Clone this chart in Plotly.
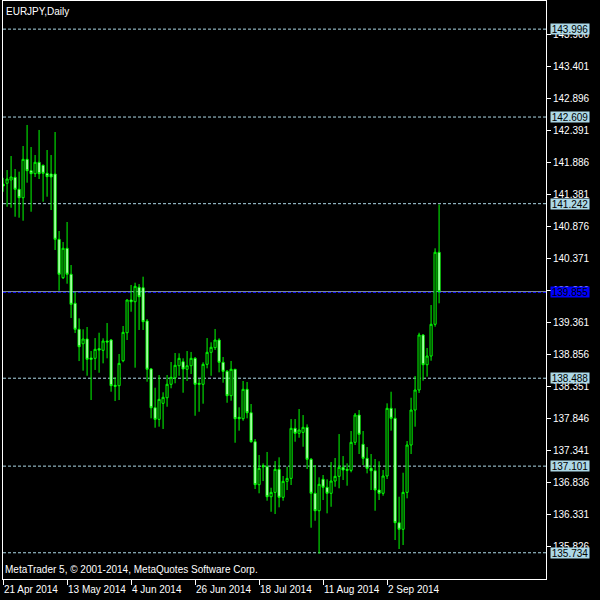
import plotly.graph_objects as go

# ---------------- data ----------------
bar_index = list(range(110))
opens = [141.55, 141.564, 141.616, 141.658, 141.469, 141.336, 141.942, 141.762, 141.715, 141.895,
         141.847, 141.721, 141.710, 141.710, 140.680, 140.074, 140.538, 140.128, 139.670, 139.260,
         139.032, 139.107, 138.807, 138.802, 138.954, 138.928, 139.075, 139.091, 138.376, 138.370,
         138.764, 139.206, 139.722, 139.695, 139.923, 139.916, 139.391, 138.634, 138.022, 137.839,
         138.092, 138.180, 138.392, 138.496, 138.685, 138.748, 138.629, 138.685, 138.802, 138.408,
         138.392, 138.707, 138.897, 138.970, 139.091, 138.739, 138.597, 138.212, 138.629, 137.871,
         137.849, 138.313, 137.943, 137.486, 136.808, 137.107, 137.092, 136.618, 136.687, 137.050,
         136.609, 136.861, 136.908, 137.697, 137.619, 137.634, 137.713, 137.208, 136.672, 136.397,
         136.893, 136.767, 136.672, 136.866, 136.940, 137.082, 137.050, 137.035, 137.477, 137.907,
         137.445, 137.224, 137.066, 137.028, 136.724, 136.672, 136.945, 138.013, 137.855, 136.208,
         136.104, 136.687, 137.434, 137.986, 138.302, 139.170, 138.701, 138.838, 139.339, 140.475]
highs = [141.65, 141.773, 141.994, 141.789, 141.747, 142.152, 142.484, 142.136, 142.010, 142.405,
         141.860, 142.089, 142.010, 142.373, 140.811, 140.637, 140.953, 140.274, 139.848, 139.433,
         139.260, 139.296, 138.917, 139.122, 139.206, 139.118, 139.359, 139.107, 138.502, 138.870,
         139.312, 139.733, 139.959, 139.995, 139.974, 140.090, 139.422, 138.649, 138.338, 138.539,
         138.266, 138.539, 138.744, 138.886, 138.881, 138.802, 138.917, 138.902, 138.823, 138.475,
         138.739, 139.122, 139.055, 139.265, 139.118, 138.823, 138.618, 138.760, 138.634, 138.029,
         138.444, 138.428, 138.081, 137.529, 137.276, 137.145, 137.324, 136.760, 137.181, 137.240,
         136.945, 137.092, 137.844, 137.844, 138.002, 137.907, 137.760, 137.229, 137.118, 136.924,
         136.961, 136.893, 137.166, 137.229, 137.607, 137.260, 137.145, 137.655, 137.939, 137.986,
         137.655, 137.402, 137.292, 137.213, 137.177, 137.040, 138.092, 138.275, 138.013, 136.618,
         136.997, 137.497, 138.180, 138.523, 139.206, 139.185, 138.965, 139.643, 140.538, 141.230]
lows = [141.43, 141.194, 141.178, 141.036, 141.021, 140.973, 141.573, 141.115, 141.663, 141.631,
        141.273, 141.352, 141.142, 140.511, 139.869, 140.053, 139.979, 139.438, 139.201, 138.759,
        138.607, 138.527, 138.144, 138.618, 138.575, 138.723, 138.802, 138.275, 138.128, 138.144,
        138.740, 139.091, 139.537, 138.654, 139.249, 139.249, 138.433, 137.855, 137.707, 137.723,
        137.687, 138.038, 138.329, 138.408, 138.527, 138.259, 138.444, 138.554, 137.896, 137.959,
        138.086, 138.644, 138.527, 138.933, 138.581, 138.417, 138.101, 138.133, 137.470, 137.660,
        137.817, 137.855, 137.470, 136.740, 136.672, 136.866, 136.555, 136.381, 136.345, 136.451,
        136.555, 136.724, 136.803, 137.486, 137.549, 137.407, 137.055, 136.129, 136.239, 135.720,
        136.566, 136.356, 136.460, 136.776, 136.751, 136.882, 136.792, 137.003, 137.434, 137.292,
        137.118, 136.987, 136.724, 136.397, 136.566, 136.634, 136.898, 137.660, 135.935, 135.793,
        135.856, 136.593, 137.292, 137.723, 138.255, 138.449, 138.512, 138.764, 139.301, 139.670]
closes = [141.52, 141.631, 141.663, 141.469, 141.336, 141.942, 141.762, 141.715, 141.895, 141.715,
          141.721, 141.668, 141.663, 140.680, 140.128, 140.538, 140.128, 139.654, 139.260, 138.985,
          139.107, 138.786, 138.786, 138.944, 138.933, 139.075, 139.059, 138.370, 138.360, 138.723,
          139.212, 139.722, 139.695, 139.938, 139.774, 139.380, 138.629, 138.022, 137.839, 138.155,
          138.187, 138.392, 138.502, 138.692, 138.802, 138.634, 138.685, 138.802, 138.392, 138.392,
          138.707, 138.897, 138.976, 139.091, 138.739, 138.597, 138.212, 138.629, 137.849, 137.849,
          138.313, 137.943, 137.486, 136.808, 137.066, 137.092, 136.618, 136.687, 137.050, 136.609,
          136.861, 136.908, 137.697, 137.619, 137.671, 137.713, 137.208, 136.672, 136.397, 136.814,
          136.767, 136.672, 136.866, 136.940, 137.082, 137.040, 137.035, 137.477, 137.907, 137.603,
          137.224, 137.066, 137.028, 136.724, 136.672, 136.945, 138.013, 137.855, 136.208, 136.104,
          136.687, 137.434, 137.986, 138.302, 139.170, 138.701, 138.838, 139.339, 140.475, 139.855]

date_tick_bars = [0, 16, 32, 48, 64, 80, 96]
date_tick_labels = ["21 Apr 2014", "13 May 2014", "4 Jun 2014", "26 Jun 2014",
                    "18 Jul 2014", "11 Aug 2014", "2 Sep 2014"]
price_ticks = [143.906, 143.401, 142.896, 142.391, 141.886, 141.381, 140.876, 140.371,
               139.866, 139.361, 138.856, 138.351, 137.846, 137.341, 136.836, 136.331, 135.826]
level_lines = [143.996, 142.609, 141.242, 138.488, 137.101, 135.734]
bid_price = 139.855
blue_line = 139.84

FONT = "Liberation Sans"
GREEN = "#00FF00"
LEVEL_COLOR = "#ADD8E6"

fig = go.Figure()
fig.add_trace(go.Candlestick(
    x=bar_index, open=opens, high=highs, low=lows, close=closes,
    increasing=dict(line=dict(color=GREEN, width=1), fillcolor="#000000"),
    decreasing=dict(line=dict(color=GREEN, width=1), fillcolor="#FFFFFF"),
    whiskerwidth=0, hoverinfo="skip", showlegend=False,
))

shapes = []
for lv in level_lines:
    shapes.append(dict(type="line", xref="paper", x0=0, x1=1, yref="y", y0=lv, y1=lv,
                       line=dict(color=LEVEL_COLOR, width=1, dash="3px,2px"), layer="below"))
shapes.append(dict(type="line", xref="paper", x0=0, x1=1, yref="y", y0=blue_line, y1=blue_line,
                   line=dict(color="#0000FF", width=1, dash="3px,2px"), layer="below"))
shapes.append(dict(type="line", xref="paper", x0=0, x1=1, yref="y", y0=bid_price, y1=bid_price,
                   line=dict(color="#8795A8", width=1), layer="below"))

annotations = []
for lv in level_lines:
    annotations.append(dict(xref="paper", x=1, yref="y", y=lv, xanchor="left", yanchor="middle",
                            xshift=4, text=f"{lv:.3f}", showarrow=False, bgcolor=LEVEL_COLOR,
                            font=dict(family=FONT, size=10, color="#000000"),
                            width=38, height=10, borderpad=0))
annotations.append(dict(xref="paper", x=1, yref="y", y=bid_price, xanchor="left", yanchor="middle",
                        xshift=4, text=f"{bid_price:.3f}", showarrow=False, bgcolor="#0000FF",
                        font=dict(family=FONT, size=10, color="#000000"),
                        width=38, height=10, borderpad=0))
for pos, lab in zip(date_tick_bars, date_tick_labels):
    annotations.append(dict(xref="x", x=pos, yref="paper", y=0, xanchor="left", yanchor="top",
                            xshift=-1, yshift=-3, text=lab, showarrow=False,
                            font=dict(family=FONT, size=10, color="#FFFFFF")))
annotations.append(dict(xref="paper", x=0, yref="paper", y=1, xanchor="left", yanchor="top",
                        xshift=1, yshift=-3, text="EURJPY,Daily", showarrow=False,
                        font=dict(family=FONT, size=10, color="#FFFFFF")))
annotations.append(dict(xref="paper", x=0, yref="paper", y=0, xanchor="left", yanchor="bottom",
                        xshift=0, yshift=2, text="MetaTrader 5, © 2001-2014, MetaQuotes Software Corp.",
                        showarrow=False, font=dict(family=FONT, size=10, color="#FFFFFF")))

fig.update_layout(
    width=600, height=600, autosize=False,
    paper_bgcolor="#000000", plot_bgcolor="#000000",
    margin=dict(l=3, r=54, t=1, b=21),
    boxgap=0.25,
    shapes=shapes, annotations=annotations,
    showlegend=False,
    xaxis=dict(range=[-0.02, 135.73], rangeslider=dict(visible=False),
               showgrid=False, zeroline=False,
               tickvals=date_tick_bars, ticktext=date_tick_labels, showticklabels=False,
               ticks="outside", ticklen=5, tickcolor="#FFFFFF", tickwidth=1,
               showline=True, linecolor="#FFFFFF", linewidth=1, mirror=True),
    yaxis=dict(range=[135.32, 144.44], side="right",
               showgrid=False, zeroline=False,
               tickvals=price_ticks, ticktext=[f"{v:.3f}" for v in price_ticks],
               ticks="outside", ticklen=4, tickcolor="#FFFFFF", tickwidth=1,
               tickfont=dict(family=FONT, size=10, color="#FFFFFF"),
               showline=True, linecolor="#FFFFFF", linewidth=1, mirror=True),
)

fig.write_html("out.html", config={"displayModeBar": False, "staticPlot": True},
               post_script="document.body.style.margin='0';document.body.style.padding='0';document.body.style.background='#000';")
